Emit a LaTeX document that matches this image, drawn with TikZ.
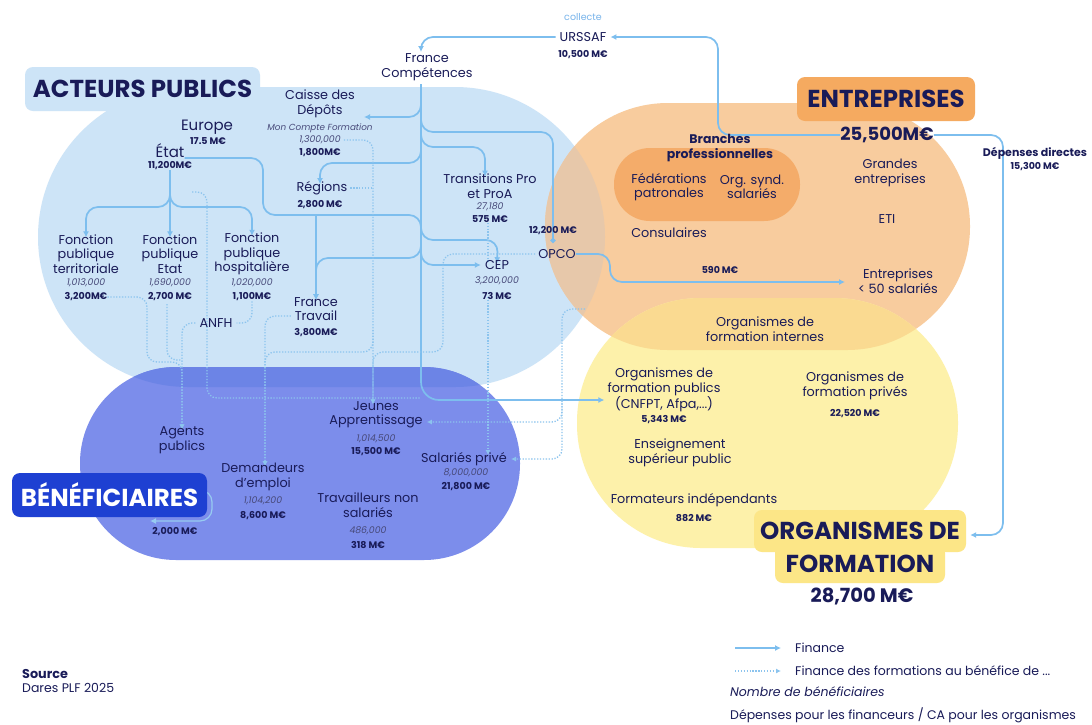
\documentclass[tikz,border=0pt]{standalone}
\usepackage{fontspec}
\setmainfont{Poppins}
\usetikzlibrary{arrows.meta}
\definecolor{bgblue}{RGB}{205,228,247}
\definecolor{purp}{RGB}{124,141,235}
\definecolor{purpdark}{RGB}{108,132,230}
\definecolor{orng}{RGB}{248,204,158}
\definecolor{tanc}{RGB}{231,200,170}
\definecolor{orngdark}{RGB}{244,172,106}
\definecolor{orbox}{RGB}{245,170,96}
\definecolor{yell}{RGB}{253,241,170}
\definecolor{yelor}{RGB}{250,218,145}
\definecolor{ybox}{RGB}{252,230,135}
\definecolor{bbox}{RGB}{30,64,210}
\definecolor{navy}{RGB}{25,27,88}
\definecolor{arw}{RGB}{125,190,238}
\definecolor{dotc}{RGB}{140,196,238}
\definecolor{collc}{RGB}{120,180,235}
\pgfdeclarelayer{bg}
\pgfdeclarelayer{lines}
\pgfsetlayers{bg,lines,main}
\tikzset{
 lab/.style={font=\fontsize{12.8}{14.5}\selectfont, text=navy, align=center, inner sep=0pt},
 amt/.style={font=\bfseries\fontsize{9.5}{11}\selectfont, text=navy, inner sep=0pt},
 cnt/.style={font=\itshape\fontsize{9.3}{11}\selectfont, text=navy!80, inner sep=0pt},
 big/.style={font=\bfseries\fontsize{24.5}{27}\selectfont, text=navy, inner sep=0pt, rounded corners=8pt},
 sum/.style={font=\bfseries\fontsize{18}{20}\selectfont, text=navy, inner sep=0pt},
 leg/.style={font=\fontsize{12.5}{14}\selectfont, text=navy, inner sep=0pt, anchor=west},
 fin/.style={draw=arw, line width=1.7pt, rounded corners=12pt, -{Latex[length=6pt,width=6pt]}},
 finl/.style={draw=arw, line width=1.7pt, rounded corners=12pt},
 dts/.style={draw=dotc, line width=1.3pt, dash pattern=on 1.3pt off 1.6pt, rounded corners=10pt, -{Latex[length=5pt,width=5pt]}},
 dtsl/.style={draw=dotc, line width=1.3pt, dash pattern=on 1.3pt off 1.6pt, rounded corners=10pt}
}
\begin{document}
\begin{tikzpicture}[x=1pt,y=-1pt]
\useasboundingbox (0,0) rectangle (1092,724);
\begin{pgfonlayer}{bg}
\fill[white] (0,0) rectangle (1092,724);
% blobs
\fill[bgblue, rounded corners=150pt] (38,87) rectangle (605,387);
\fill[purp, rounded corners=96pt] (80,367) rectangle (520,560);
\fill[orng, rounded corners=123pt] (545,103) rectangle (970,350);
\fill[yell, rounded corners=124pt] (577,298) rectangle (958,548);
\begin{scope}
 \clip[rounded corners=150pt] (38,87) rectangle (605,387);
 \fill[purpdark, rounded corners=96pt] (80,367) rectangle (520,560);
 \fill[tanc, rounded corners=123pt] (545,103) rectangle (970,350);
\end{scope}
\begin{scope}
 \clip[rounded corners=123pt] (545,103) rectangle (970,350);
 \fill[yelor, rounded corners=124pt] (577,298) rectangle (958,548);
\end{scope}
\fill[orngdark, rounded corners=36pt] (614,148) rectangle (800,221);
\end{pgfonlayer}

% label boxes and big titles
\node[big, fill=bgblue, minimum width=235pt, minimum height=44pt] (tAP) at (142.5,89) {ACTEURS PUBLICS};
\node[big, fill=orbox, minimum width=178pt, minimum height=44pt] (tEN) at (886,99) {ENTREPRISES};
\node[big, fill=ybox, minimum width=212pt, minimum height=42pt] (tOF1) at (860,531) {ORGANISMES DE};
\node[big, fill=ybox, minimum width=170pt, minimum height=38pt] (tOF2) at (860,564) {FORMATION};
\node[big, fill=bbox, text=white, minimum width=195pt, minimum height=44pt] (tBE) at (109.5,495) {BÉNÉFICIAIRES};
\node[sum] (sEN) at (887,135) {25,500M€};
\node[sum, font=\bfseries\fontsize{19.5}{21}\selectfont] (sOF) at (862,596) {28,700 M€};

% top
\node[lab, font=\fontsize{9.5}{10}\selectfont, text=collc] (coll) at (583,17) {collecte};
\node[lab] (urs) at (583,37) {URSSAF};
\node[amt] (ursA) at (583,55) {10,500 M€};
\node[lab] (fc) at (427,67) {France\\Compétences};

% acteurs publics
\node[lab] (cdc) at (320,104) {Caisse des\\Dépôts};
\node[cnt, font=\itshape\fontsize{8.8}{10}\selectfont] (mcf) at (320,128) {Mon Compte Formation};
\node[cnt] (cdcN) at (320,140) {1,300,000};
\node[amt] (cdcA) at (320,153) {1,800M€};
\node[lab, font=\fontsize{15}{16}\selectfont] (eu) at (207,127) {Europe};
\node[amt] (euA) at (208,141) {17.5 M€};
\node[lab, font=\fontsize{15}{16}\selectfont] (etat) at (170,151) {État};
\node[amt] (etatA) at (170,166) {11,200M€};
\node[lab] (reg) at (322,188) {Régions};
\node[amt] (regA) at (320,205) {2,800 M€};
\node[lab] (tp) at (490,186) {Transitions Pro\\et ProA};
\node[cnt] (tpN) at (490,207) {27,180};
\node[amt] (tpA) at (490,219) {575 M€};
\node[amt] (opA) at (553,231) {12,200 M€};
\node[lab] (opco) at (557,254) {OPCO};
\node[lab] (cep) at (497,265) {CEP};
\node[cnt] (cepN) at (497,281) {3,200,000};
\node[amt] (cepA) at (497,296) {73 M€};
\node[lab] (fpt) at (86,254) {Fonction\\publique\\territoriale};
\node[cnt] (fptN) at (86,283) {1,013,000};
\node[amt] (fptA) at (86,297) {3,200M€};
\node[lab] (fpe) at (170,254) {Fonction\\publique\\Etat};
\node[cnt] (fpeN) at (170,283) {1,690,000};
\node[amt] (fpeA) at (170,297) {2,700 M€};
\node[lab] (fph) at (252,254) {Fonction\\publique\\hospitalière};
\node[cnt] (fphN) at (252,283) {1,020,000};
\node[amt] (fphA) at (252,297) {1,100M€};
\node[lab] (anfh) at (216,323) {ANFH};
\node[lab] (ft) at (316,309) {France\\Travail};
\node[amt] (ftA) at (316,333) {3,800M€};

% entreprises
\node[amt, font=\bfseries\fontsize{11}{12}\selectfont] (dd) at (1035,153) {Dépenses directes};
\node[amt] (ddA) at (1035,167) {15,300 M€};
\node[lab, font=\bfseries\fontsize{12.5}{14.5}\selectfont] (br) at (720,148) {Branches\\professionnelles};
\node[lab] (fed) at (669,187) {Fédérations\\patronales};
\node[lab] (orgs) at (752,187) {Org. synd.\\salariés};
\node[lab] (ge) at (890,173) {Grandes\\entreprises};
\node[lab] (eti) at (887,219) {ETI};
\node[lab] (cons) at (669,233) {Consulaires};
\node[amt] (a590) at (720,270) {590 M€};
\node[lab] (pme) at (898,281) {Entreprises\\< 50 salariés};

% organismes
\node[lab] (ofi) at (765,329) {Organismes de\\formation internes};
\node[lab] (ofp) at (664,390) {Organismes de\\formation publics\\(CNFPT, Afpa,...)};
\node[amt] (ofpA) at (664,420) {5,343 M€};
\node[lab] (ofv) at (855,386) {Organismes de\\formation privés};
\node[amt] (ofvA) at (855,414) {22,520 M€};
\node[lab] (esp) at (680,453) {Enseignement\\supérieur public};
\node[lab] (fi) at (694,500) {Formateurs indépendants};
\node[amt] (fiA) at (694,518) {882 M€};

% beneficiaires
\node[lab] (ag) at (182,440) {Agents\\publics};
\node[lab] (de) at (263,477) {Demandeurs\\d'emploi};
\node[cnt] (deN) at (263,501) {1,104,200};
\node[amt] (deA) at (263,516) {8,600 M€};
\node[lab] (ja) at (376,415) {Jeunes\\Apprentissage};
\node[cnt] (jaN) at (376,439) {1,014,500};
\node[amt] (jaA) at (376,452) {15,500 M€};
\node[lab] (sp) at (464,459) {Salariés privé};
\node[cnt] (spN) at (466,473) {8,000,000};
\node[amt] (spA) at (466,487) {21,800 M€};
\node[lab] (tns) at (368,505) {Travailleurs non\\salariés};
\node[cnt] (tnsN) at (368,531) {486,000};
\node[amt] (tnsA) at (368,545) {318 M€};
\node[amt] (beA) at (175,532) {2,000 M€};

\begin{pgfonlayer}{lines}
% solid connectors
\draw[fin] (sEN.west) -- (718,135) -- (718,37) -- ([xshift=4pt]urs.east);
\draw[fin] ([xshift=-4pt]urs.west) -- (421,37) -- (421,52);
\draw[fin, rounded corners=18pt] (421,84) -- (421,400) -- ([xshift=-3pt]ofp.west |- 0,400);
\draw[fin] (421,98) |- (364,117);
\draw[fin, -{Circle[length=5pt]}] (421,110) |- (553,132) -- (553,243);
\draw[fin] (421,124) |- (485,147) -- ([yshift=-3pt]tp.north -| 485,0);
\draw[fin] (421,150) |- (320,163) -- ([yshift=-3pt]reg.north -| 320,0);
\draw[fin] (316,214) -- ([yshift=-3pt]ft.north -| 316,0);
\draw[fin] (421,236) |- (316,258) -- ([yshift=-3pt]ft.north -| 316,0);
\draw[fin] (421,246) |- ([xshift=-4pt]cep.west);
\draw[fin] (etat.east |- 0,158) -- (263,158) -- (263,215) -- (421,215) -- (421,240) -- (498,240) -- ([yshift=-3pt]cep.north);
\draw[fin] (etatA.south) -- ([yshift=-3pt]fpe.north);
\draw[fin] (170,188) |- (86,207) -- ([yshift=-3pt]fpt.north);
\draw[fin] (170,188) |- (252,207) -- ([yshift=-3pt]fph.north);
\draw[fin] (opco.east) -- (610,254) -- (610,282) -- (845,282);
\draw[fin] (sEN.east) -- (1003,135) -- (1003,535) -- ([xshift=4pt]tOF1.east |- 0,535);
\draw[fin, line width=1.2pt, draw=arw!80] (tBE.east |- 0,490) -- (212,490) -- (212,521) -- (150,521);

% dotted connectors
\draw[dts] (fptA.east) -- (147,297) -- (147,362) -- (182,362) -- ([yshift=-3pt]ag.north);
\draw[dtsl] (167,304) -- (167,360) -- (182,360);
\draw[dtsl] (fphA.south) -- (252,323) -- ([xshift=4pt]anfh.east);
\draw[dts] ([xshift=-4pt]anfh.west) -- (182,323) -- ([yshift=-3pt]ag.north);
\draw[dtsl] (etatA.east |- 0,192) -- (207,192) -- (207,398) -- (421,398);
\draw[dts] ([xshift=3pt]cdcN.east) -- (373,140) -- ([yshift=-3pt]ja.north -| 373,0);
\draw[dtsl] ([xshift=3pt]reg.east) -- (373,188);
\draw[dts] (373,330) |- (265,352) -- ([yshift=-3pt]de.north -| 265,0);
\draw[dts] ([xshift=-3pt]ft.west |- 0,316) -- (265,316) -- ([yshift=-3pt]de.north -| 265,0);
\draw[dts] ([xshift=-3pt]opco.west) -- (443,254) -- (443,352) -- (373,352) -- ([yshift=-3pt]ja.north -| 373,0);
\draw[dtsl] (tpA.south -| 488,0) -- ([yshift=-2pt]cep.north -| 488,0);
\draw[dts] ([yshift=3pt]cepA.south -| 488,0) -- ([yshift=-3pt]sp.north -| 488,0);
\coordinate (entdot) at (585,309);
\draw[dts] (entdot) -- (562,309) -- (562,422) -- ([xshift=4pt]ja.east |- 0,422);
\draw[dts] (562,400) -- (562,459) -- ([xshift=4pt]sp.east);

% legend
\coordinate (lg1a) at (735,648); \coordinate (lg1b) at (781,648);
\coordinate (lg2a) at (735,671); \coordinate (lg2b) at (781,671);
\draw[fin] (lg1a) -- (lg1b);
\draw[dts] (lg2a) -- (lg2b);
\end{pgfonlayer}
\node[leg] (lg1) at (795,648) {Finance};
\node[leg] (lg2) at (795,671) {Finance des formations au bénéfice de ...};
\node[leg, font=\itshape\fontsize{12.5}{14}\selectfont] (lg3) at (730,692) {Nombre de bénéficiaires};
\node[leg] (lg4) at (730,715) {Dépenses pour les financeurs / CA pour les organismes};
\node[leg, font=\bfseries\fontsize{12.8}{14}\selectfont] (src) at (22,674) {Source};
\node[leg] (srcb) at (22,688) {Dares PLF 2025};
\end{tikzpicture}
\end{document}
